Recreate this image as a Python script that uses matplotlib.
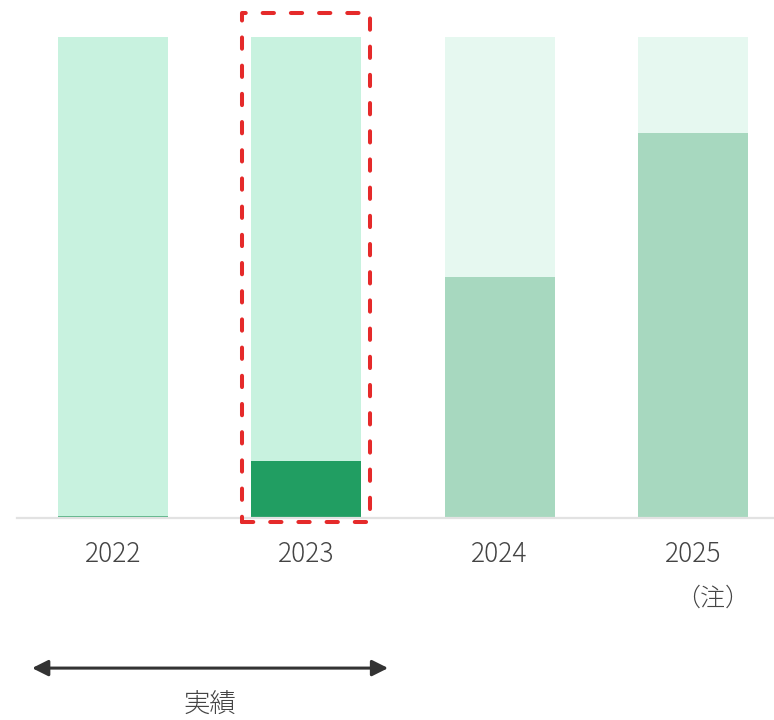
import matplotlib.pyplot as plt
from matplotlib.patches import Rectangle

plt.rcParams['font.family'] = ['Noto Sans CJK JP', 'DejaVu Sans']

years = ['2022', '2023', '2024', '2025']
totals = [100, 100, 100, 100]
filled = [0.4, 11.9, 50.0, 80.0]
back_colors = ['#c8f2df', '#c8f2df', '#e6f8f0', '#e6f8f0']
fill_colors = ['#5bb588', '#219e62', '#a7d8bf', '#a7d8bf']

fig = plt.figure(figsize=(7.74, 7.2), dpi=100)
ax = fig.add_axes([17 / 774, (720 - 518) / 720, 756 / 774, 508 / 720])

x = list(range(len(years)))
ax.bar(x, totals, width=0.569, color=back_colors, zorder=1)
ax.bar(x, filled, width=0.569, color=fill_colors, zorder=2)

ax.set_xlim(-0.497, 3.414)
ax.set_ylim(0, 105.6)
ax.set_xticks(x)
ax.set_xticklabels(years, fontsize=19, color='#444444', fontweight='light')
ax.tick_params(axis='x', length=0, pad=16)
ax.set_yticks([])
for s in ['top', 'left', 'right']:
    ax.spines[s].set_visible(False)
ax.spines['bottom'].set_color('#e2e2e2')
ax.spines['bottom'].set_linewidth(1.6)

# note under the last year
ax.text(3.1, -16.8, '（注）', ha='center', va='center', fontsize=18,
        color='#444444', fontweight='light')

# dashed frame around 2023
frame = Rectangle((0.669, -0.8), 0.662, 105.8, fill=False, edgecolor='#e52a2a',
                  linewidth=2.9, linestyle=(0, (2.8, 4.2)), capstyle='round',
                  joinstyle='round', clip_on=False, zorder=5)
ax.add_patch(frame)

# actual results span
ax.annotate('', xy=(-0.419, -31.2), xytext=(1.423, -31.2),
            arrowprops=dict(arrowstyle='<|-|>', color='#333333', lw=2.2,
                            mutation_scale=24, shrinkA=0, shrinkB=0),
            annotation_clip=False)
ax.text(0.502, -38.9, '実績', ha='center', va='center', fontsize=19,
        color='#444444', fontweight='light')

fig.savefig('out.png', dpi=100)
